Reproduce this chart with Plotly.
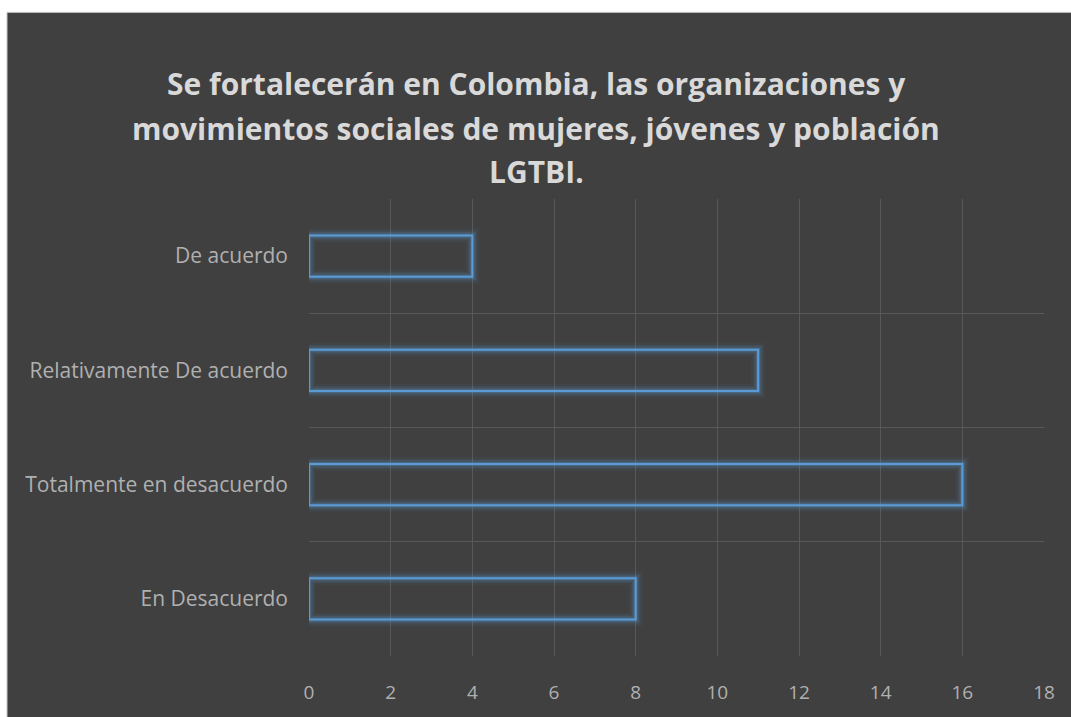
import plotly.graph_objects as go

categories = ["En Desacuerdo", "Totalmente en desacuerdo", "Relativamente De acuerdo", "De acuerdo"]
values = [8, 16, 11, 4]
title_lines = [
    "Se fortalecerán en Colombia, las organizaciones y",
    "movimientos sociales de mujeres, jóvenes y población",
    "LGTBI.",
]
x_ticks = [0, 2, 4, 6, 8, 10, 12, 14, 16, 18]

W, H = 1071, 717
L, R, T, B = 309, 27, 199, 54
pw, ph = W - L - R, H - T - B

def px2x(px):
    return (px - L) / pw

def py2y(py):
    return (H - B - py) / ph

BLUE = "91,155,213"
ypos = list(range(len(categories)))

fig = go.Figure()
for w, a in [(14, 0.05), (10, 0.09), (7, 0.14), (4, 0.25)]:
    fig.add_trace(go.Bar(
        x=values, y=ypos, orientation="h", width=0.36,
        marker=dict(color="rgba(0,0,0,0)", line=dict(color=f"rgba({BLUE},{a})", width=w)),
        hoverinfo="skip", showlegend=False,
    ))
fig.add_trace(go.Bar(
    x=values, y=ypos, orientation="h", width=0.36,
    marker=dict(color="rgba(0,0,0,0)", line=dict(color=f"rgb({BLUE})", width=2)),
    showlegend=False, customdata=categories,
    hovertemplate="%{customdata}: %{x}<extra></extra>",
))

# dark chart area (no outline), plus light frame lines on left and top
fig.add_shape(type="rect", xref="paper", yref="paper",
              x0=px2x(7), x1=px2x(1200), y0=py2y(800), y1=py2y(9.5),
              fillcolor="#404040", line=dict(width=0), layer="below")
fig.add_shape(type="line", xref="paper", yref="paper",
              x0=px2x(7), x1=px2x(7), y0=py2y(800), y1=py2y(9.5),
              line=dict(color="#c8c8c8", width=1), layer="below")
fig.add_shape(type="line", xref="paper", yref="paper",
              x0=px2x(7), x1=px2x(1200), y0=py2y(9.5), y1=py2y(9.5),
              line=dict(color="#c8c8c8", width=1), layer="below")

title_y = [82, 127, 171]
for txt, yy in zip(title_lines, title_y):
    fig.add_annotation(text=f"<b>{txt}</b>", xref="paper", yref="paper",
                       x=px2x(536), y=py2y(yy), showarrow=False,
                       xanchor="center", yanchor="middle",
                       font=dict(family="Open Sans", size=30, color="#d9d9d9"))

fig.update_layout(
    width=W, height=H,
    margin=dict(l=L, r=R, t=T, b=B, pad=0),
    paper_bgcolor="white",
    plot_bgcolor="rgba(0,0,0,0)",
    barmode="overlay",
    font=dict(family="Open Sans", color="#b0b0b0", size=18),
    xaxis=dict(range=[0, 18], tickvals=x_ticks, showgrid=True, gridcolor="#585858", gridwidth=1,
               zeroline=False, showline=False, ticks="", ticklabelstandoff=23,
               tickfont=dict(size=19, color="#b0b0b0")),
    yaxis=dict(range=[-0.5, 3.5], tickvals=ypos, ticktext=categories, showgrid=False,
               zeroline=False, showline=False, ticks="", ticklabelstandoff=20,
               tickfont=dict(size=21, color="#b0b0b0"),
               minor=dict(tickvals=[-0.5, 0.5, 1.5, 2.5, 3.5], showgrid=True,
                          gridcolor="#585858", gridwidth=1, ticks="")),
)

fig.write_html(
    "out.html",
    config={"displayModeBar": False},
    post_script="document.body.style.margin='0px';document.body.style.overflow='hidden';",
)
